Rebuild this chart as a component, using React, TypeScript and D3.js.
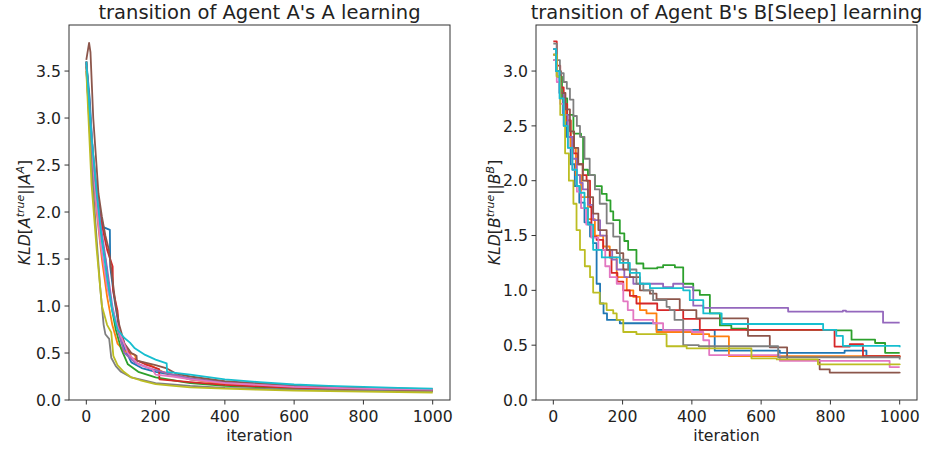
import React from "react";
import * as d3 from "d3";

type Pt = [number, number];

const COLORS = ["#1f77b4", "#ff7f0e", "#2ca02c", "#d62728", "#9467bd", "#8c564b", "#e377c2", "#7f7f7f", "#bcbd22", "#17becf"];
const X_TICKS = [0, 200, 400, 600, 800, 1000];
const LEFT_Y_TICKS = [0, 0.5, 1, 1.5, 2, 2.5, 3, 3.5];
const RIGHT_Y_TICKS = [0, 0.5, 1, 1.5, 2, 2.5, 3];
const LEFT_TITLE = "transition of Agent A's A learning";
const RIGHT_TITLE = "transition of Agent B's B[Sleep] learning";
const X_LABEL = "iteration";

// ---- Left panel: Agent A's A learning (iteration, KLD) ----
const aBlue: Pt[] = [[0, 3.6], [10, 3.2], [20, 2.5], [35, 2.1], [49, 1.84], [68, 1.81], [69, 1.42], [80, 1.1], [95, 0.75], [110, 0.55], [130, 0.4], [160, 0.34], [200, 0.3], [260, 0.26], [300, 0.22], [400, 0.18], [500, 0.155], [600, 0.14], [700, 0.125], [800, 0.115], [900, 0.108], [1000, 0.1]];
const aOrange: Pt[] = [[0, 3.55], [15, 2.6], [30, 2.0], [45, 1.5], [60, 1.1], [75, 0.8], [90, 0.6], [110, 0.52], [140, 0.48], [145, 0.42], [180, 0.38], [220, 0.3], [300, 0.22], [400, 0.17], [500, 0.15], [600, 0.13], [800, 0.11], [1000, 0.1]];
const aGreen: Pt[] = [[0, 3.6], [15, 2.8], [30, 2.2], [45, 1.7], [55, 1.5], [70, 1.05], [85, 0.75], [100, 0.55], [120, 0.38], [150, 0.3], [200, 0.24], [250, 0.21], [300, 0.18], [400, 0.15], [600, 0.12], [800, 0.105], [1000, 0.095]];
const aRed: Pt[] = [[0, 3.6], [10, 3.0], [20, 2.4], [40, 1.95], [60, 1.6], [76, 1.42], [77, 1.17], [90, 0.95], [95, 0.75], [110, 0.6], [130, 0.45], [170, 0.38], [210, 0.33], [211, 0.22], [300, 0.19], [400, 0.16], [600, 0.13], [800, 0.11], [1000, 0.1]];
const aPurple: Pt[] = [[0, 3.6], [20, 2.6], [40, 1.9], [60, 1.4], [75, 1.0], [90, 0.75], [110, 0.5], [140, 0.4], [180, 0.34], [250, 0.27], [300, 0.23], [400, 0.19], [600, 0.145], [800, 0.12], [1000, 0.11]];
const aBrown: Pt[] = [[0, 3.62], [8, 3.8], [12, 3.7], [20, 3.0], [35, 2.2], [45, 1.95], [55, 1.75], [65, 1.6], [75, 1.3], [85, 1.0], [95, 0.8], [110, 0.6], [130, 0.5], [145, 0.47], [146, 0.42], [200, 0.37], [230, 0.34], [260, 0.28], [300, 0.25], [400, 0.2], [600, 0.155], [800, 0.13], [1000, 0.115]];
const aPink: Pt[] = [[0, 3.5], [20, 2.4], [40, 1.7], [60, 1.2], [80, 0.9], [100, 0.68], [120, 0.5], [150, 0.38], [190, 0.33], [200, 0.27], [250, 0.25], [300, 0.22], [400, 0.18], [600, 0.14], [800, 0.12], [1000, 0.11]];
const aGray: Pt[] = [[0, 3.55], [15, 2.5], [30, 1.7], [40, 1.2], [50, 0.8], [55, 0.7], [66, 0.65], [72, 0.45], [85, 0.36], [100, 0.3], [130, 0.24], [200, 0.18], [300, 0.15], [400, 0.13], [600, 0.11], [800, 0.1], [1000, 0.09]];
const aOlive: Pt[] = [[0, 3.5], [15, 2.3], [30, 1.6], [40, 1.2], [45, 1.0], [60, 0.8], [72, 0.72], [78, 0.47], [90, 0.37], [108, 0.3], [130, 0.24], [156, 0.21], [200, 0.17], [252, 0.15], [300, 0.135], [400, 0.12], [492, 0.11], [600, 0.1], [800, 0.09], [1000, 0.08]];
const aCyan: Pt[] = [[0, 3.6], [15, 2.8], [30, 2.2], [45, 1.7], [60, 1.3], [75, 0.95], [90, 0.75], [110, 0.66], [126, 0.61], [140, 0.55], [170, 0.48], [200, 0.43], [232, 0.39], [233, 0.3], [300, 0.27], [400, 0.22], [500, 0.19], [600, 0.165], [700, 0.15], [800, 0.14], [900, 0.13], [1000, 0.12]];

// ---- Right panel: Agent B's B[Sleep] learning (step values) ----
const bBlue: Pt[] = [[0, 3.2], [8, 3.0], [18, 2.8], [28, 2.6], [38, 2.4], [50, 2.15], [62, 1.95], [75, 1.8], [90, 1.62], [106, 1.49], [115, 1.43], [125, 1.06], [135, 0.88], [145, 0.79], [155, 0.73], [192, 0.7], [298, 0.64], [466, 0.45], [654, 0.43], [841, 0.45], [904, 0.4], [1000, 0.4]];
const bOrange: Pt[] = [[0, 3.15], [10, 2.95], [20, 2.75], [35, 2.55], [50, 2.3], [65, 2.05], [80, 1.85], [100, 1.65], [120, 1.5], [144, 1.4], [163, 1.3], [183, 1.12], [212, 1.0], [231, 0.94], [250, 0.82], [269, 0.79], [298, 0.62], [400, 0.6], [450, 0.58], [507, 0.4], [1000, 0.39]];
const bGreen: Pt[] = [[0, 3.1], [10, 2.95], [25, 2.75], [40, 2.6], [58, 2.43], [80, 2.4], [86, 2.1], [100, 2.05], [120, 1.95], [140, 1.88], [154, 1.82], [165, 1.72], [173, 1.64], [192, 1.52], [205, 1.45], [216, 1.37], [240, 1.245], [260, 1.2], [300, 1.21], [317, 1.23], [351, 1.21], [375, 1.06], [404, 1.0], [423, 0.958], [452, 0.79], [481, 0.68], [514, 0.65], [557, 0.64], [817, 0.635], [861, 0.55], [929, 0.52], [958, 0.43], [1000, 0.43]];
const bRed: Pt[] = [[0, 3.27], [10, 3.05], [20, 2.85], [30, 2.7], [40, 2.55], [50, 2.4], [58, 2.25], [70, 2.15], [85, 2.05], [96, 2.0], [106, 1.76], [110, 1.49], [125, 1.46], [144, 1.37], [163, 1.3], [168, 1.16], [185, 1.08], [202, 1.0], [221, 0.95], [240, 0.88], [300, 0.82], [375, 0.74], [423, 0.64], [481, 0.64], [812, 0.487], [856, 0.51], [894, 0.4], [1000, 0.39]];
const bPurple: Pt[] = [[0, 3.2], [8, 3.0], [18, 2.8], [30, 2.6], [42, 2.4], [55, 2.2], [68, 2.05], [77, 1.98], [85, 1.92], [100, 1.78], [115, 1.64], [135, 1.5], [154, 1.37], [170, 1.28], [183, 1.19], [205, 1.12], [231, 1.06], [317, 1.03], [346, 1.06], [375, 1.03], [404, 0.86], [433, 0.84], [678, 0.806], [836, 0.815], [845, 0.806], [952, 0.705], [1000, 0.705]];
const bBrown: Pt[] = [[0, 3.15], [10, 3.0], [22, 2.8], [35, 2.65], [48, 2.45], [60, 2.3], [72, 2.15], [85, 2.0], [100, 1.85], [115, 1.7], [130, 1.55], [154, 1.37], [183, 1.34], [202, 1.19], [221, 1.12], [250, 1.0], [279, 0.97], [298, 0.92], [365, 0.82], [413, 0.745], [562, 0.585], [625, 0.48], [675, 0.365], [769, 0.28], [798, 0.25], [1000, 0.245]];
const bPink: Pt[] = [[0, 3.1], [10, 2.9], [20, 2.7], [30, 2.5], [42, 2.3], [55, 2.1], [68, 1.9], [80, 1.75], [95, 1.6], [110, 1.48], [130, 1.37], [150, 1.22], [163, 1.12], [183, 1.06], [202, 0.9], [215, 0.82], [231, 0.73], [288, 0.7], [317, 0.636], [400, 0.62], [433, 0.545], [450, 0.41], [654, 0.357], [971, 0.3], [1000, 0.3]];
const bGray: Pt[] = [[0, 3.25], [10, 3.1], [19, 2.98], [30, 2.9], [39, 2.84], [48, 2.74], [58, 2.59], [68, 2.5], [77, 2.4], [90, 2.2], [105, 2.05], [120, 1.92], [134, 1.79], [154, 1.61], [173, 1.49], [192, 1.28], [216, 1.19], [240, 1.06], [260, 1.0], [288, 0.91], [327, 0.85], [336, 0.82], [350, 0.73], [375, 0.5], [420, 0.49], [649, 0.39], [1000, 0.37]];
const bOlive: Pt[] = [[0, 3.15], [10, 2.95], [20, 2.6], [34, 2.25], [45, 2.0], [58, 1.79], [67, 1.55], [77, 1.37], [91, 1.22], [106, 1.12], [115, 0.98], [134, 0.88], [154, 0.82], [173, 0.79], [183, 0.73], [202, 0.62], [240, 0.6], [327, 0.49], [385, 0.47], [572, 0.38], [645, 0.37], [764, 0.325], [1000, 0.32]];
const bCyan: Pt[] = [[0, 3.2], [8, 3.0], [18, 2.75], [30, 2.5], [42, 2.3], [55, 2.1], [68, 1.95], [77, 1.89], [90, 1.75], [100, 1.6], [115, 1.37], [140, 1.3], [192, 1.25], [221, 1.16], [250, 1.06], [279, 1.02], [375, 1.0], [394, 0.91], [433, 0.79], [486, 0.693], [779, 0.64], [817, 0.585], [836, 0.494], [1000, 0.48]];

const LEFT_SERIES = [aBlue, aOrange, aGreen, aRed, aPurple, aBrown, aPink, aGray, aOlive, aCyan];
const RIGHT_SERIES = [bBlue, bOrange, bGreen, bRed, bPurple, bBrown, bPink, bGray, bOlive, bCyan];

const FONT = "DejaVu Sans, sans-serif";
const INK = "#222";

type PanelProps = {
  series: Pt[][];
  left: number;
  right: number;
  top: number;
  bottom: number;
  yMax: number;
  yTicks: number[];
  step: boolean;
  title: string;
  letter: string;
  labelX: number;
};

function Panel({ series, left, right, top, bottom, yMax, yTicks, step, title, letter, labelX }: PanelProps) {
  const x = d3.scaleLinear().domain([-50, 1050]).range([left, right]);
  const y = d3.scaleLinear().domain([0, yMax]).range([bottom, top]);
  const line = d3
    .line<Pt>()
    .x((d) => x(d[0]))
    .y((d) => y(d[1]))
    .curve(step ? d3.curveStepAfter : d3.curveLinear);
  const cx = (left + right) / 2;
  const cy = (top + bottom) / 2;
  const tickLen = 4.5;
  return (
    <g>
      <defs>
        <clipPath id={`clip-${letter}`}>
          <rect x={left} y={top} width={right - left} height={bottom - top} />
        </clipPath>
      </defs>
      <g clipPath={`url(#clip-${letter})`}>
        {series.map((s, i) => (
          <path key={i} d={line(s) || ""} fill="none" stroke={COLORS[i]} strokeWidth={1.8} strokeLinejoin="round" />
        ))}
      </g>
      <rect x={left} y={top} width={right - left} height={bottom - top} fill="none" stroke="#333" strokeWidth={1} />
      {X_TICKS.map((t) => (
        <g key={`x${t}`}>
          <line x1={x(t)} x2={x(t)} y1={bottom} y2={bottom + tickLen} stroke="#333" strokeWidth={1} />
          <text x={x(t)} y={421.5} textAnchor="middle" fontSize={15.7} fill={INK} fontFamily={FONT}>
            {t}
          </text>
        </g>
      ))}
      {yTicks.map((t) => (
        <g key={`y${t}`}>
          <line x1={left - tickLen} x2={left} y1={y(t)} y2={y(t)} stroke="#333" strokeWidth={1} />
          <text x={left - 8} y={y(t)} dy="0.36em" textAnchor="end" fontSize={15.7} fill={INK} fontFamily={FONT}>
            {t.toFixed(1)}
          </text>
        </g>
      ))}
      <text x={cx} y={19} textAnchor="middle" fontSize={19.5} fill={INK} fontFamily={FONT}>
        {title}
      </text>
      <text x={cx} y={441} textAnchor="middle" fontSize={15.7} fill={INK} fontFamily={FONT}>
        {X_LABEL}
      </text>
      <text transform={`translate(${labelX},${cy}) rotate(-90)`} textAnchor="middle" fontSize={15.7} fill={INK} fontFamily={FONT}>
        <tspan fontStyle="italic">KLD</tspan>
        <tspan>[</tspan>
        <tspan fontStyle="italic">{letter}</tspan>
        <tspan fontStyle="italic" fontSize={11} dy={-6}>true</tspan>
        <tspan dy={6}>||</tspan>
        <tspan fontStyle="italic">{letter}</tspan>
        <tspan fontStyle="italic" fontSize={11} dy={-6}>{letter}</tspan>
        <tspan dy={6}>]</tspan>
      </text>
    </g>
  );
}

export default function App() {
  return (
    <svg width={929} height={449} style={{ position: "absolute", left: 0, top: 0, background: "#fff" }}>
      <rect x={0} y={0} width={929} height={449} fill="#fff" />
      <Panel series={LEFT_SERIES} left={69} right={450} top={25} bottom={400} yMax={3.99} yTicks={LEFT_Y_TICKS} step={false} title={LEFT_TITLE} letter="A" labelX={30} />
      <Panel series={RIGHT_SERIES} left={536} right={917} top={25} bottom={400} yMax={3.42} yTicks={RIGHT_Y_TICKS} step={true} title={RIGHT_TITLE} letter="B" labelX={500} />
    </svg>
  );
}
